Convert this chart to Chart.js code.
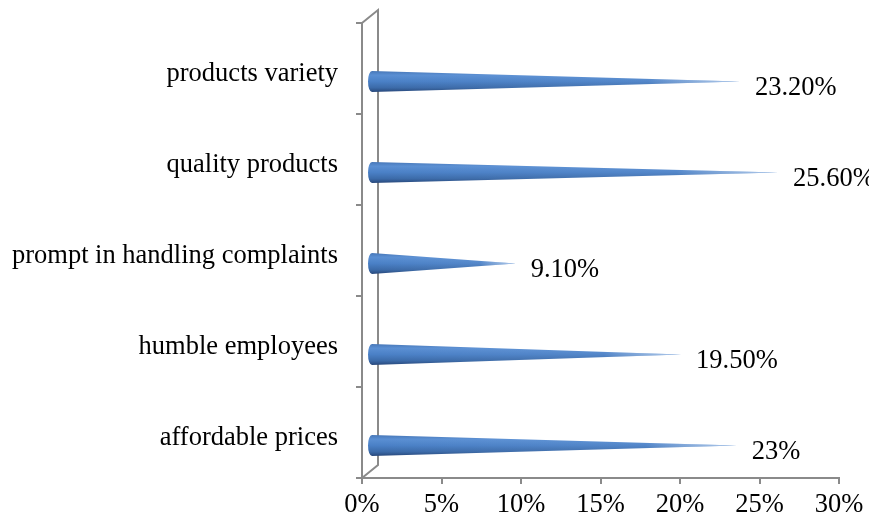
<!DOCTYPE html>
<html>
<head>
<meta charset="utf-8">
<script src="https://cdn.jsdelivr.net/npm/chart.js@4.4.0/dist/chart.umd.min.js"></script>
<style>
  body { margin: 0; background: #fff; }
  #wrap { width: 869px; height: 522px; position: relative; }
</style>
</head>
<body>
<div id="wrap"><canvas id="coneChart"></canvas></div>
<script>
// chart data
const categories = ['products variety', 'quality products', 'prompt in handling complaints', 'humble employees', 'affordable prices'];
const shares = [23.2, 25.6, 9.1, 19.5, 23];
const shareLabels = ['23.20%', '25.60%', '9.10%', '19.50%', '23%'];
const xTicks = [0, 5, 10, 15, 20, 25, 30];

const axisGrey = '#8a8a8a';
const serif = 'Liberation Serif';
const fontSize = 26.5;

// 3d wall: front plane plus a back plane shifted up/right
const depthX = 16, depthY = 13;

const wallPlugin = {
    id: 'wall',
    beforeDatasetsDraw(chart) {
        const a = chart.chartArea;
        const ctx = chart.ctx;
        ctx.save();
        ctx.strokeStyle = axisGrey;
        ctx.lineWidth = 2;
        ctx.beginPath();
        ctx.moveTo(a.left, a.top);
        ctx.lineTo(a.left + depthX, a.top - depthY);
        ctx.lineTo(a.left + depthX, a.bottom - depthY);
        ctx.lineTo(a.left, a.bottom);
        ctx.stroke();
        ctx.restore();
    }
};

// draws each bar as a cone lying on its side
const conePlugin = {
    id: 'cones',
    afterDatasetsDraw(chart) {
        const ctx = chart.ctx;
        const meta = chart.getDatasetMeta(0);
        meta.data.forEach((el, i) => {
            const cy = el.y + 13;
            const r = el.height / 2;
            const bx = el.base + 9;
            const tx = el.x + 9;
            const rx = 4;

            const grad = ctx.createLinearGradient(0, cy - r, 0, cy + r);
            grad.addColorStop(0, '#4777b8');
            grad.addColorStop(0.2, '#5a8fd3');
            grad.addColorStop(0.5, '#4a80c6');
            grad.addColorStop(0.8, '#3b6aa8');
            grad.addColorStop(1, '#27477a');

            ctx.save();
            ctx.beginPath();
            ctx.moveTo(bx, cy - r);
            ctx.lineTo(tx, cy);
            ctx.lineTo(bx, cy + r);
            ctx.ellipse(bx, cy, rx, r, 0, Math.PI / 2, Math.PI * 1.5);
            ctx.closePath();
            ctx.fillStyle = grad;
            ctx.fill();

            // lighter toward the tip
            const fade = ctx.createLinearGradient(bx, 0, tx, 0);
            fade.addColorStop(0, 'rgba(255,255,255,0)');
            fade.addColorStop(0.75, 'rgba(255,255,255,0.05)');
            fade.addColorStop(1, 'rgba(215,230,250,0.7)');
            ctx.fillStyle = fade;
            ctx.fill();

            ctx.fillStyle = '#000';
            ctx.font = fontSize + 'px "' + serif + '"';
            ctx.textAlign = 'left';
            ctx.textBaseline = 'middle';
            ctx.fillText(shareLabels[i], tx + 15, cy + 7);
            ctx.restore();
        });
    }
};

const ctx = document.getElementById('coneChart').getContext('2d');
const chart = new Chart(ctx, {
    type: 'bar',
    data: {
        labels: categories,
        datasets: [{
            data: shares,
            backgroundColor: 'rgba(0,0,0,0)',
            borderWidth: 0,
            barThickness: 21
        }]
    },
    options: {
        indexAxis: 'y',
        responsive: true,
        maintainAspectRatio: false,
        animation: false,
        layout: {
            padding: { top: 23, right: 30, left: 0, bottom: 0 }
        },
        plugins: {
            legend: { display: false },
            tooltip: { enabled: false }
        },
        scales: {
            x: {
                min: 0,
                max: 30,
                afterFit: scale => { scale.height = 44; },
                afterBuildTicks: scale => { scale.ticks = xTicks.map(v => ({ value: v })); },
                border: { color: axisGrey, width: 2 },
                grid: { drawOnChartArea: false, color: axisGrey, lineWidth: 2, tickLength: 6 },
                ticks: {
                    color: '#000',
                    padding: 5,
                    maxRotation: 0,
                    font: { family: serif, size: fontSize },
                    callback: value => value + '%'
                }
            },
            y: {
                afterFit: scale => {
                    scale.width = 362;
                    scale.paddingTop = 0;
                    scale.paddingBottom = 0;
                },
                border: { color: axisGrey, width: 2 },
                grid: { drawOnChartArea: false, color: axisGrey, lineWidth: 2, tickLength: 6 },
                ticks: {
                    color: '#000',
                    padding: 18,
                    labelOffset: 6,
                    font: { family: serif, size: fontSize }
                }
            }
        }
    },
    plugins: [wallPlugin, conePlugin]
});
</script>
</body>
</html>
